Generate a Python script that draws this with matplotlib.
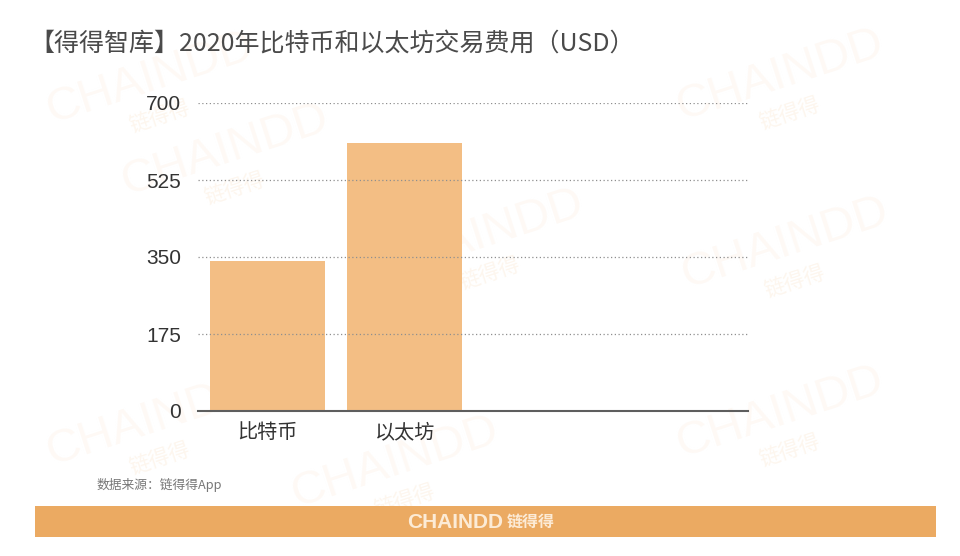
import matplotlib
matplotlib.use('Agg')
import matplotlib.pyplot as plt
from matplotlib.patches import Rectangle

plt.rcParams['font.family'] = ['Noto Sans CJK SC', 'DejaVu Sans']

categories = ['比特币', '以太坊', '', '']
values = [341, 609]
yticks = [0, 175, 350, 525, 700]
title = '【得得智库】2020年比特币和以太坊交易费用（USD）'
source = '数据来源：链得得App'
brand_en = 'CHAINDD'
brand_cn = '链得得'

W, H = 960, 556
fig = plt.figure(figsize=(W / 100, H / 100), dpi=100, facecolor='white')

def fx(x): return x / W
def fy(y): return 1 - y / H

# faint watermarks
marks = [(150, 78), (780, 75), (225, 150), (480, 235), (785, 243),
         (150, 420), (395, 462), (780, 412)]
for (x, y) in marks:
    fig.text(fx(x), fy(y), brand_en, fontsize=34, color='#FEF9F5', rotation=18,
             ha='center', va='center', family=['Liberation Sans'], zorder=0)
    fig.text(fx(x + 10), fy(y + 38), brand_cn, fontsize=15, color='#FDF6EE', rotation=18,
             ha='center', va='center', zorder=0)

ax = fig.add_axes([fx(198), fy(411), (748 - 198) / W, (411 - 103) / H])
ax.set_zorder(5)
ax.patch.set_alpha(0)
ax.bar(range(len(values)), values, width=0.836, color='#F3BE84', zorder=2)
ax.set_xlim(-0.505, 3.495)
ax.set_ylim(0, 700)
ax.set_yticks(yticks)
ax.set_xticks(range(len(categories)))
ax.set_xticklabels(categories, fontsize=14.5, color='#333333')
ax.tick_params(axis='both', length=0)
ax.tick_params(axis='x', pad=8)
ax.tick_params(axis='y', pad=12)
for lab in ax.get_yticklabels():
    lab.set_fontsize(15)
    lab.set_color('#333333')
    lab.set_family(['Liberation Sans'])
ax.yaxis.grid(True, linestyle=(0, (1, 2)), color='#8F8F8F', linewidth=0.9, zorder=3)
ax.set_axisbelow(False)
for s in ['top', 'right', 'left']:
    ax.spines[s].set_visible(False)
ax.spines['bottom'].set_color('#5E5E5E')
ax.spines['bottom'].set_linewidth(1.5)
ax.spines['bottom'].set_zorder(4)

fig.text(fx(29), fy(44), title, fontsize=18, color='#4A4A4A', ha='left', va='center')
fig.text(fx(97), fy(485), source, fontsize=9.2, color='#777777', ha='left', va='center')

fig.add_artist(Rectangle((fx(35), fy(537)), (936 - 35) / W, 31 / H,
                         transform=fig.transFigure, facecolor='#EBAA62', edgecolor='none'))
fig.text(fx(407), fy(522), brand_en, fontsize=15, color='#FCEBD6', weight='bold',
         ha='left', va='center', family=['Liberation Sans'])
fig.text(fx(507), fy(522), brand_cn, fontsize=11.5, color='#FCEBD6', weight='bold',
         ha='left', va='center')

fig.savefig('out.png', dpi=100)
